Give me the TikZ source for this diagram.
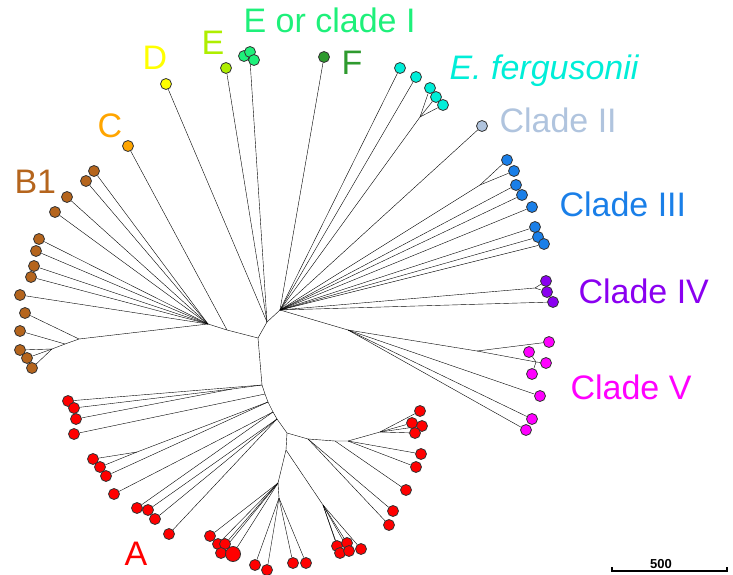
\documentclass[tikz,border=0pt]{standalone}
\usepackage{fontspec}
\setmainfont{Liberation Sans}
\usepackage{tikz}
\usetikzlibrary{backgrounds}

\definecolor{cB}{HTML}{B5651D}
\definecolor{cC}{HTML}{FFA500}
\definecolor{cD}{HTML}{FFFF00}
\definecolor{cE}{HTML}{AEEE00}
\definecolor{cEI}{HTML}{1EF07A}
\definecolor{cF}{HTML}{2E9A2E}
\definecolor{cEF}{HTML}{00EED8}
\definecolor{cII}{HTML}{B0C4DE}
\definecolor{cIII}{HTML}{1A7FE8}
\definecolor{cIV}{HTML}{8A00F0}
\definecolor{cV}{HTML}{FF00FF}
\definecolor{cA}{HTML}{FF0000}

\begin{document}
\begin{tikzpicture}[x=1pt,y=-1pt,
    tip/.style={circle,draw=black!80,line width=0.8pt,inner sep=0pt,minimum size=11pt},
    branch/.style={line width=1.7pt,line join=round},
    clade/.style={font=\fontsize{34}{40}\selectfont,anchor=base west}]
  \useasboundingbox (0,0) rectangle (733,575);

  % inner branch points
  \coordinate (n0) at (258,338);
  \coordinate (nL1) at (227,330);
  \coordinate (nL2) at (208,324);
  \coordinate (nB1) at (79,339);
  \coordinate (nB2) at (65,344);
  \coordinate (nB3) at (52,349);
  \coordinate (nU1) at (267,322);
  \coordinate (nU2) at (280,310);
  \coordinate (ec0) at (250,60);
  \coordinate (nEF) at (420,117);
  \coordinate (n3a) at (480,185);
  \coordinate (n4) at (535,288);
  \coordinate (V1) at (348,330);
  \coordinate (V2) at (477,351);
  \coordinate (V3) at (536,362);
  \coordinate (P1) at (262,385);
  \coordinate (P2) at (265,394);
  \coordinate (P3) at (268,402);
  \coordinate (P4) at (273,412);
  \coordinate (P5) at (277,419);
  \coordinate (P6) at (287,433);
  \coordinate (s1) at (232,389);
  \coordinate (s2) at (137,452);
  \coordinate (Q1) at (286,450);
  \coordinate (s4) at (278,483);
  \coordinate (s5) at (279,498);
  \coordinate (s6) at (323,505);
  \coordinate (R1) at (308,439);
  \coordinate (R2) at (335,441);
  \coordinate (R3) at (348,441);
  \coordinate (R4) at (380,432);

  % tips
  \foreach \n/\x/\y in {b1/94/171,b2/86/181,b3/67/197,b4/55/212,b5/39/239,
      b6/36/251,b7/34/266,b8/31/277,b9/20/295,b10/25/313,b11/20/331,
      b12/20/350,b13/27/358,b14/32/368}
    \node[tip,fill=cB] (\n) at (\x,\y) {};
  \node[tip,fill=cC] (c1) at (128,146) {};
  \node[tip,fill=cD] (d1) at (166,84) {};
  \node[tip,fill=cE] (e1) at (226,68) {};
  \foreach \n/\x/\y in {ec1/244/56,ec2/250/52,ec3/254/60}
    \node[tip,fill=cEI] (\n) at (\x,\y) {};
  \node[tip,fill=cF] (f1) at (324,57) {};
  \foreach \n/\x/\y in {ef1/400/68,ef2/416/77,ef3/430/88,ef4/436/97,ef5/443/105}
    \node[tip,fill=cEF] (\n) at (\x,\y) {};
  \node[tip,fill=cII] (ii1) at (482,126) {};
  \foreach \n/\x/\y in {iii1/507/160,iii2/514/171,iii3/516/185,iii4/522/195,
      iii5/532/207,iii6/535/227,iii7/538/237,iii8/544/244}
    \node[tip,fill=cIII] (\n) at (\x,\y) {};
  \foreach \n/\x/\y in {iv1/546/281,iv2/547/292,iv3/553/302}
    \node[tip,fill=cIV] (\n) at (\x,\y) {};
  \foreach \n/\x/\y in {v1/549/342,v2/529/352,v3/546/363,v4/532/374,
      v5/540/396,v6/532/419,v7/526/430}
    \node[tip,fill=cV] (\n) at (\x,\y) {};
  \foreach \n/\x/\y in {a1/68/401,a2/74/408,a3/76/419,a4/74/434,a5/93/459,
      a6/100/467,a7/106/476,a8/114/494,a9/137/508,a10/148/510,a11/155/519,
      a12/169/534,a13/210/536,a14/218/544,a15/225/544,a16/221/553,
      a18/255/565,a19/267/570,a20/293/563,a21/306/563,a22/337/546,
      a23/347/543,a24/340/553,a25/349/551,a26/361/549,a27/389/525,
      a28/393/511,a29/406/490,a30/416/467,a31/421/454,a35/420/411,
      a33/412/423,a34/422/426,a32/415/433}
    \node[tip,fill=cA] (\n) at (\x,\y) {};
  \node[tip,fill=cA,minimum size=15pt] (a17) at (233,554) {};

  % branches
  \begin{scope}[on background layer,branch]
    \draw (nL2) -- (nL1) -- (n0) -- (nU1) -- (nU2);
    \draw (nL1) -- (c1);
    \foreach \i in {1,...,9} \draw (nL2) -- (b\i);
    \draw (nL2) -- (nB1) -- (nB2) -- (nB3);
    \draw (nB1) -- (b10);
    \draw (nB2) -- (b11);
    \foreach \i in {12,13,14} \draw (nB3) -- (b\i);
    \draw (nU1) -- (d1);
    \draw (nU1) -- (e1);
    \draw (nU1) -- (ec0);
    \foreach \i in {1,2,3} \draw (ec0) -- (ec\i);
    \draw (nU2) -- (f1);
    \draw (nU2) -- (ef1);
    \draw (nU2) -- (ef2);
    \draw (nU2) -- (nEF);
    \foreach \i in {3,4,5} \draw (nEF) -- (ef\i);
    \draw (nU2) -- (ii1);
    \draw (nU2) -- (n3a);
    \draw (n3a) -- (iii1);
    \draw (n3a) -- (iii2);
    \foreach \i in {3,...,8} \draw (nU2) -- (iii\i);
    \draw (nU2) -- (n4);
    \draw (n4) -- (iv1);
    \draw (n4) -- (iv2);
    \draw (nU2) -- (iv3);
    \draw (nU2) -- (V1) -- (V2) -- (V3);
    \draw (V2) -- (v1);
    \foreach \i in {2,3,4} \draw (V3) -- (v\i);
    \foreach \i in {5,6,7} \draw (V1) -- (v\i);
    % clade A
    \draw (n0) -- (P1) -- (P2) -- (P3) -- (P4) -- (P5) -- (P6);
    \draw (P1) -- (a1);
    \draw (P1) -- (s1);
    \draw (s1) -- (a2);
    \draw (s1) -- (a3);
    \draw (P2) -- (a4);
    \draw (P3) -- (s2);
    \draw (s2) -- (a5);
    \draw (s2) -- (a6);
    \draw (P3) -- (a7);
    \draw (P4) -- (a8);
    \draw (P4) -- (a9);
    \foreach \i in {10,11,12} \draw (P5) -- (a\i);
    \draw (P6) -- (Q1) -- (s4) -- (s5);
    \foreach \i in {13,...,17} \draw (s4) -- (a\i);
    \foreach \i in {18,...,21} \draw (s5) -- (a\i);
    \draw (Q1) -- (s6);
    \foreach \i in {22,...,26} \draw (s6) -- (a\i);
    \draw (P6) -- (R1) -- (R2) -- (R3) -- (R4);
    \draw (R1) -- (a27);
    \draw (R1) -- (a28);
    \draw (R2) -- (a29);
    \draw (R3) -- (a30);
    \draw (R3) -- (a31);
    \foreach \i in {32,...,35} \draw (R4) -- (a\i);
  \end{scope}

  % clade labels
  \node[clade,text=cEI] (lEI) at (240,33) {E or clade I};
  \node[clade,text=cF] (lF) at (338,75) {F};
  \node[clade,text=cE] (lE) at (198,55) {E};
  \node[clade,text=cD] (lD) at (139,70) {D};
  \node[clade,text=cC] (lC) at (94,137) {C};
  \node[clade,text=cB] (lB) at (11,193) {B1};
  \node[clade,text=cEF,font=\fontsize{34}{40}\selectfont\itshape] (lEF) at (446,80) {E. fergusonii};
  \node[clade,text=cII] (lII) at (496,132) {Clade II};
  \node[clade,text=cIII] (lIII) at (556,216) {Clade III};
  \node[clade,text=cIV] (lIV) at (575,303) {Clade IV};
  \node[clade,text=cV] (lV) at (567,399) {Clade V};
  \node[clade,text=cA] (lA) at (121,565) {A};

  % scale bar
  \coordinate (sbL) at (612,571);
  \coordinate (sbR) at (727,571);
  \draw[line width=1.3pt] ([yshift=4pt]sbL) -- (sbL) -- (sbR) -- ([yshift=4pt]sbR);
  \node[font=\bfseries\fontsize{13}{15}\selectfont,anchor=base] (sbtxt) at (661,568) {500};
\end{tikzpicture}
\end{document}
